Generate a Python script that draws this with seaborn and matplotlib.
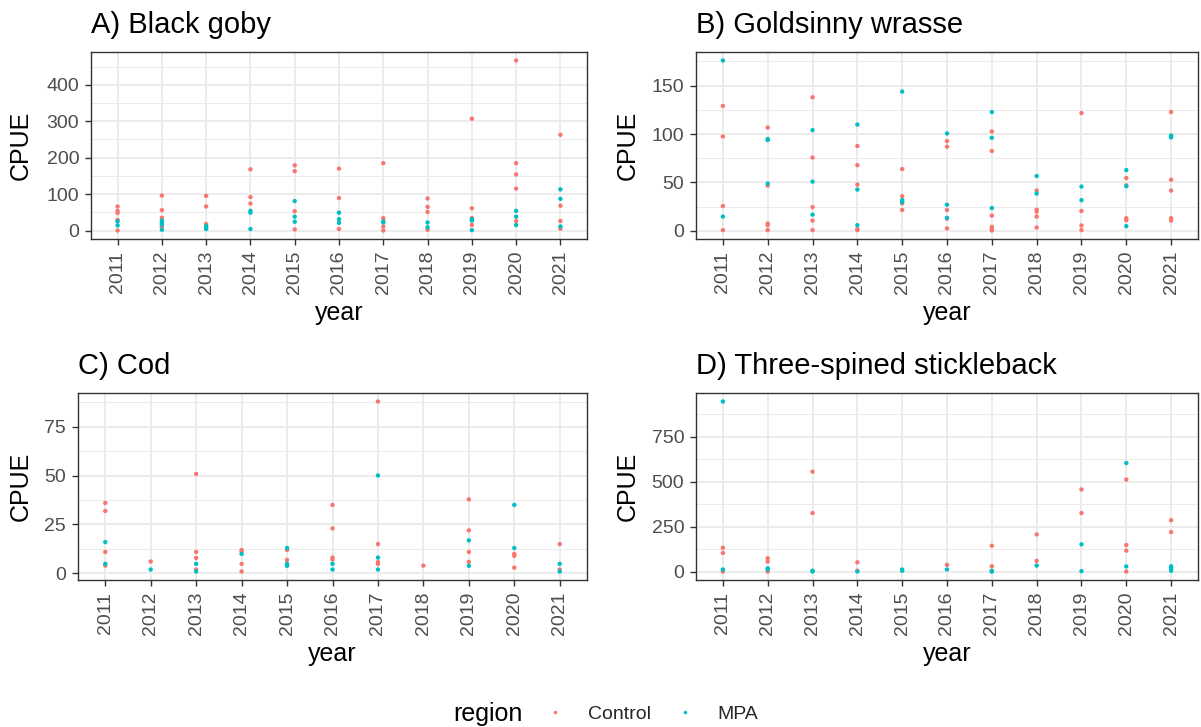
import matplotlib
matplotlib.use("Agg")
import matplotlib.pyplot as plt
from matplotlib.ticker import MultipleLocator, FixedLocator
import seaborn as sns
import pandas as pd

years = list(range(2011, 2022))
regions = ["Control", "MPA"]
colors = {"Control": "#F8766D", "MPA": "#00BFC4"}

titles = ["A) Black goby", "B) Goldsinny wrasse", "C) Cod", "D) Three-spined stickleback"]

# values per year (2011..2021)
goby_control = [[66, 54, 48, 29, 0], [96, 56, 35, 10], [95, 66, 18], [168, 92, 74],
                [179, 163, 53, 3], [170, 89, 4], [185, 34, 11, 0], [88, 65, 51, 2],
                [307, 61, 34, 15], [467, 185, 154, 115, 26], [263, 68, 26, 5]]
goby_mpa = [[25, 14], [27, 21, 16, 2], [12, 7, 4], [54, 49, 4], [81, 38, 24], [49, 31, 21],
            [25, 22], [22, 9], [31, 27, 1], [54, 38, 15], [113, 87, 11]]

wrasse_control = [[129, 97.5, 25.6, 0.7], [106.7, 46.7, 7.5, 5.8, 0.7], [138, 75.7, 24.5, 10.6, 0.7],
                  [87.6, 67.8, 47.7, 1.7, 0.7], [63.8, 35.8, 28.3, 21.5], [92.7, 86.9, 21.5, 12.6, 2.4],
                  [102.6, 82.5, 15.7, 4.1, 2, 0.3], [41.6, 21.8, 19.8, 14.7, 3.4], [121.7, 20.5, 5.5, 0.7],
                  [54.5, 47, 13, 10.9], [122.7, 52.8, 41.6, 13, 10.6]]
wrasse_mpa = [[176, 14.7], [94.8, 93.8, 48.8], [104, 50.8, 16.7], [109.8, 42.6, 5.8],
              [143.9, 31.7, 29.7], [100.6, 26.9, 13.3], [122.7, 96.1, 23.5], [56.6, 38.5],
              [45.7, 31.7], [62.7, 46, 4.8], [98.5, 96.5]]

cod_control = [[36, 31.9, 11, 4], [6.1], [50.8, 11, 7.9, 2], [12, 11.3, 4.9, 1], [12, 6.9],
               [35, 23, 8.1, 7.1], [87.8, 15, 5.9, 4.9], [4], [37.8, 22, 11, 5.9], [10, 9, 3], [15, 2]]
cod_mpa = [[16, 4.9], [2], [4.9, 1], [10], [13, 4.9, 3.9], [4.9, 2], [50, 8.1, 2], [],
           [16.9, 3.9], [35, 13], [4.9, 1]]

stickle_control = [[132, 103, 0], [73.5, 55, 0], [555, 325], [51, 4], [], [37], [143, 29, 0],
                   [206, 59], [456, 325], [511, 147, 116, 0], [285, 219]]
stickle_mpa = [[945, 11], [18, 11], [4, 0], [0], [11, 4], [11], [4, 0], [33], [151, 2],
               [603, 28], [29, 22, 13, 4]]

species_data = [(goby_control, goby_mpa), (wrasse_control, wrasse_mpa),
                (cod_control, cod_mpa), (stickle_control, stickle_mpa)]
major_steps = [100, 50, 25, 250]

sns.set_theme(style="white")
plt.rcParams["font.family"] = ["Liberation Sans", "DejaVu Sans"]

W, H = 1201, 727
fig = plt.figure(figsize=(W / 100, H / 100), dpi=100)

# panel boxes in pixels: left, right, top, bottom
boxes = [(91, 587, 52, 239), (696, 1198, 52, 239), (78, 587, 393, 580), (696, 1198, 393, 580)]
ylab_right = [33, 640, 33, 640]

handles = labels = None
for i, (box, (ctrl, mpa)) in enumerate(zip(boxes, species_data)):
    rows = []
    for reg, vals in (("Control", ctrl), ("MPA", mpa)):
        for yr, vs in zip(years, vals):
            for v in vs:
                rows.append({"year": yr, "CPUE": v, "region": reg})
    df = pd.DataFrame(rows)
    l, r, t, b = box
    ax = fig.add_axes([l / W, 1 - b / H, (r - l) / W, (b - t) / H])
    sns.scatterplot(data=df, x="year", y="CPUE", hue="region", hue_order=regions,
                    palette=colors, s=10, linewidth=0, ax=ax, legend=(i == 0))
    if i == 0:
        handles, labels = ax.get_legend_handles_labels()
        ax.get_legend().remove()
    lo, hi = df["CPUE"].min(), df["CPUE"].max()
    rng = hi - lo
    ax.set_ylim(lo - 0.05 * rng, hi + 0.05 * rng)
    ax.set_xlim(2011 - 0.6, 2021 + 0.6)
    ax.xaxis.set_major_locator(FixedLocator(years))
    ax.set_xticklabels([str(y) for y in years], rotation=90)
    ax.yaxis.set_major_locator(MultipleLocator(major_steps[i]))
    ax.yaxis.set_minor_locator(MultipleLocator(major_steps[i] / 2))
    ax.set_axisbelow(True)
    ax.grid(which="major", color="#EBEBEB", linewidth=1.3)
    ax.grid(which="minor", axis="y", color="#EBEBEB", linewidth=0.7)
    for sp in ax.spines.values():
        sp.set_color("#333333")
        sp.set_linewidth(1.0)
    ax.tick_params(which="major", length=4.5, width=1.0, color="#333333",
                   labelcolor="#4D4D4D", labelsize=14, pad=4, bottom=True, left=True)
    ax.tick_params(which="minor", length=0, left=False, bottom=False)
    ax.set_xlabel("year", fontsize=18, color="black")
    ax.set_ylabel("CPUE", fontsize=18, color="black")
    h = b - t
    wdt = r - l
    ax.xaxis.set_label_coords(0.5, -(301 - 239) / h)
    ax.yaxis.set_label_coords((ylab_right[i] - l) / wdt, 0.5)
    ax.set_title(titles[i], loc="left", fontsize=21, pad=14, color="black")

fig.text(453 / W, 1 - 714 / H, "region", fontsize=18, ha="left", va="center", color="black")
leg = fig.legend(handles, labels, loc="center left", bbox_to_anchor=(545 / W, 1 - 714 / H),
                 ncol=2, frameon=False, fontsize=14, handlelength=1.0, handletextpad=1.19,
                 columnspacing=1.25, borderpad=0, borderaxespad=0, markerscale=0.8)

fig.savefig("out.png", dpi=100, facecolor="white")
